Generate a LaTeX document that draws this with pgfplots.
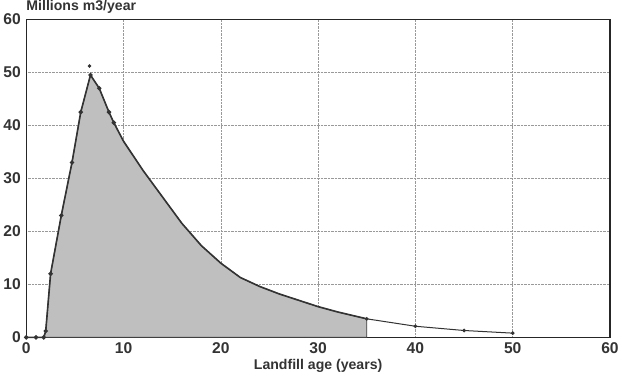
\documentclass[border=0pt]{standalone}
\usepackage{fontspec}
\setmainfont{Liberation Sans}
\usepackage{pgfplots}
\pgfplotsset{compat=1.18}
\begin{document}
\begin{tikzpicture}
\begin{axis}[
  scale only axis,
  width=580pt, height=316pt,
  xmin=0, xmax=60, ymin=0, ymax=60,
  xtick={0,10,...,60}, ytick={0,10,...,60},
  major tick length=0pt,
  grid=major,
  grid style={densely dotted, gray!80, line width=0.6pt},
  axis line style={black!85, line width=1.3pt},
  tick label style={font=\bfseries\fontsize{15.5}{16}\selectfont, text=black!80},
  yticklabel style={xshift=-2pt},
  xticklabel style={yshift=-2pt},
  /pgf/number format/assume math mode=true,
  xlabel={\bfseries Landfill age (years)},
  xlabel style={font=\fontsize{14}{15}\selectfont, text=black!80, yshift=2pt},
  clip=false,
]
% shaded area up to 35 years
\addplot[fill=gray!50, draw=black!75, line width=0.8pt] coordinates {
(1.8,0) (2,1.2) (2.5,12) (3.6,23) (4.7,33) (5.6,42.5) (6.6,49.5) (7.5,47) (8.5,42.5) (9,40.5) (10,37) (12,31.5) (14,26.5) (16,21.5) (18,17.3) (20,14) (22,11.3) (24,9.6) (26,8.2) (28,7) (30,5.8) (32,4.8) (35,3.5)
} \closedcycle;
% curve
\addplot[black!80, line width=1.6pt, mark=*, mark size=1.3pt, mark options={black!80}] coordinates {
(0,0) (1,0) (1.8,0) (2,1.2) (2.5,12) (3.6,23) (4.7,33) (5.6,42.5) (6.6,49.5) (7.5,47) (8.5,42.5) (9,40.5)
};
\addplot[black!80, line width=1.6pt] coordinates {
(9,40.5) (10,37) (12,31.5) (14,26.5) (16,21.5) (18,17.3) (20,14) (22,11.3) (24,9.6) (26,8.2) (28,7) (30,5.8) (32,4.8) (35,3.5)
};
\addplot[black!80, line width=1pt, mark=*, mark size=1.3pt, mark options={black!80}] coordinates {
(35,3.5) (40,2.1) (45,1.3) (50,0.8)
};
\addplot[only marks, mark=*, mark size=1.5pt, black!80] coordinates {(6.5,51.2)};
\node[anchor=south west, inner sep=0pt, font=\bfseries\fontsize{14}{15}\selectfont, text=black!80] at (rel axis cs:0,1) [yshift=6pt] {Millions m3/year};
\end{axis}
\end{tikzpicture}
\end{document}
